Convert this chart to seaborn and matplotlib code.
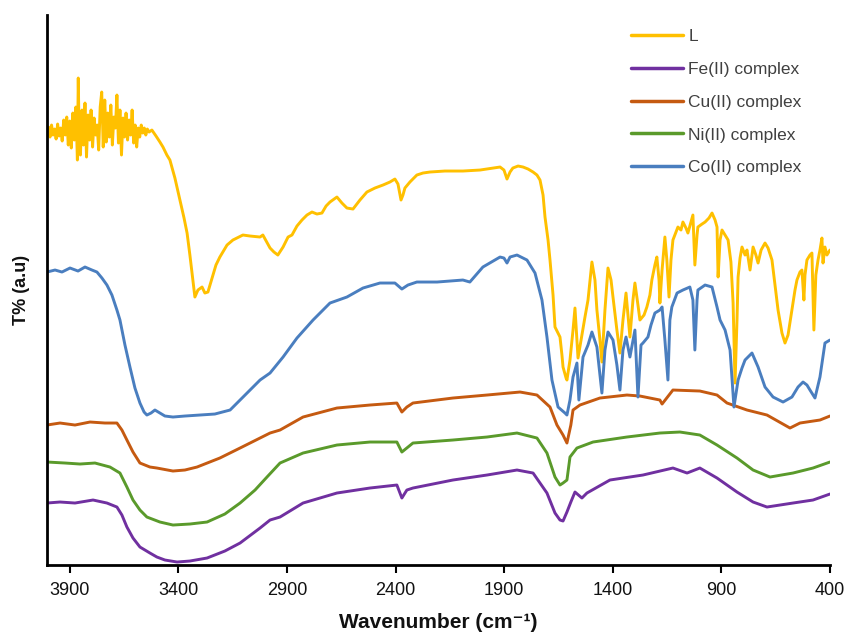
import numpy as np
import pandas as pd
import matplotlib
matplotlib.use("Agg")
import matplotlib.pyplot as plt
import seaborn as sns

# FT-IR spectra, wavenumber (cm-1) vs transmittance (arbitrary offset units)
wn_L = [4005, 3998, 3991, 3984, 3977, 3970, 3963, 3956, 3949, 3942, 3935, 3928, 3921, 3914, 3907,
        3900, 3893, 3886, 3879, 3872, 3865, 3861, 3857, 3851, 3844, 3837, 3830, 3823, 3816, 3809,
        3802, 3795, 3788, 3781, 3774, 3767, 3760, 3753, 3746, 3739, 3732, 3725, 3718, 3711, 3704,
        3697, 3690, 3683, 3676, 3669, 3662, 3655, 3648, 3641, 3634, 3627, 3620, 3613, 3606, 3599,
        3592, 3585, 3578, 3571, 3564, 3557, 3550, 3543, 3535, 3522,
        3503, 3485, 3471, 3453, 3439, 3416, 3393, 3374, 3360, 3347, 3337, 3324, 3310, 3291,
        3278, 3264, 3245, 3227, 3209, 3176, 3149, 3103, 3070, 3024, 3011, 2978, 2960, 2942, 2918,
        2895, 2877, 2854, 2831, 2808, 2785, 2762, 2739, 2720, 2702, 2670, 2647, 2624, 2596, 2564,
        2532, 2495, 2458, 2426, 2403, 2389, 2375, 2366, 2357, 2334, 2302, 2274, 2242, 2173, 2090,
        2011, 1919, 1901, 1887, 1873, 1860, 1836, 1813, 1790, 1767, 1749, 1735, 1721, 1712, 1698,
        1689, 1675, 1666, 1652, 1643, 1634, 1629, 1615, 1611, 1597, 1583, 1574, 1560, 1546, 1528,
        1514, 1496, 1482, 1473, 1459, 1450, 1436, 1422, 1408, 1399, 1381, 1367, 1353, 1339, 1330,
        1321, 1307, 1298, 1284, 1275, 1256, 1243, 1229, 1220, 1206, 1197, 1187, 1183, 1173, 1160,
        1151, 1141, 1132, 1123, 1109, 1100, 1086, 1077, 1063, 1054, 1040, 1031, 1022, 1012, 1008,
        989, 975, 957, 943, 929, 920, 915, 906, 897, 883, 869, 856, 846, 837, 828,
        823, 814, 805, 791, 782, 768, 754, 741, 731, 717, 699, 685, 667, 653, 639,
        621, 607, 593, 575, 561, 552, 538, 529, 520, 515, 506, 492, 483, 474, 465,
        455, 446, 437, 432, 423, 414, 400]
t_L = [433, 438, 428, 440, 430, 436, 426, 441, 429, 437, 424, 445, 430, 448, 420,
       444, 417, 452, 425, 458, 405, 487, 430, 410, 455, 420, 462, 408, 450, 425,
       455, 418, 447, 430, 440, 415, 458, 473, 418, 465, 423, 452, 428, 460, 420,
       448, 437, 470, 422, 455, 410, 447, 428, 452, 425, 445, 430, 455, 422, 440,
       418, 437, 428, 440, 432, 437, 430, 436, 433, 435,
       429, 423, 418, 410, 405, 387, 365, 347, 332, 310, 292, 268, 275, 278,
       272, 273, 287, 300, 308, 320, 325, 330, 329, 328, 330, 317, 313, 310, 318,
       328, 330, 339, 345, 350, 353, 351, 352, 359, 363, 368, 362, 357, 356, 365,
       373, 377, 380, 383, 386, 381, 365, 370, 377, 383, 390, 392, 393, 394, 394,
       395, 398, 395, 386, 393, 397, 399, 398, 396, 393, 390, 385, 370, 348, 325,
       305, 270, 238, 232, 228, 210, 198, 187, 185, 205, 235, 257, 207, 225, 248,
       265, 303, 285, 255, 225, 203, 255, 297, 285, 268, 235, 212, 245, 272, 250,
       228, 265, 282, 260, 245, 250, 258, 270, 285, 300, 308, 285, 262, 295, 328,
       305, 268, 305, 325, 333, 338, 335, 343, 337, 332, 343, 350, 300, 330, 338,
       341, 343, 347, 352, 345, 338, 288, 325, 335, 330, 325, 303, 262, 182, 245,
       288, 307, 318, 310, 315, 295, 318, 310, 302, 315, 322, 317, 305, 280, 255,
       232, 222, 230, 255, 275, 285, 293, 295, 265, 290, 305, 310, 312, 235, 290,
       305, 315, 327, 302, 318, 310, 315]

wn_Fe = [4005, 3945, 3876, 3793, 3729, 3683, 3660, 3637, 3609, 3577, 3531, 3499, 3462, 3406, 3347,
         3268, 3186, 3116, 3024, 2978, 2932, 2826, 2670, 2518, 2394, 2371, 2348, 2320, 2136, 1979,
         1841, 1767, 1703, 1666, 1643, 1629, 1611, 1593, 1574, 1542, 1519, 1413, 1261, 1123, 1058,
         999, 920, 828, 754, 690, 570, 478, 400]
t_Fe = [62, 63, 62, 65, 62, 58, 50, 38, 27, 18, 12, 8, 5, 3, 4,
        7, 14, 22, 37, 45, 48, 62, 72, 77, 80, 67, 75, 77, 85, 90,
        95, 92, 72, 52, 45, 44, 53, 63, 73, 67, 72, 85, 90, 97, 92,
        97, 87, 73, 63, 58, 62, 65, 71]

wn_Cu = [4005, 3945, 3876, 3807, 3738, 3683, 3660, 3637, 3609, 3577, 3531, 3499, 3425, 3370, 3314,
         3209, 3116, 3024, 2978, 2932, 2826, 2670, 2518, 2394, 2371, 2348, 2320, 2136, 1979, 1827,
         1749, 1689, 1657, 1629, 1611, 1593, 1583, 1551, 1459, 1335, 1275, 1183, 1173, 1123, 999,
         920, 874, 782, 690, 584, 538, 446, 400]
t_Cu = [140, 142, 140, 143, 142, 142, 135, 125, 113, 102, 98, 97, 94, 95, 98,
        107, 117, 127, 132, 135, 148, 157, 160, 162, 153, 158, 162, 167, 170, 173,
        170, 158, 140, 130, 122, 140, 155, 160, 167, 170, 169, 165, 161, 175, 174,
        170, 162, 155, 150, 137, 142, 145, 149]

wn_Ni = [4005, 3922, 3853, 3784, 3715, 3669, 3637, 3609, 3577, 3545, 3485, 3425, 3347, 3268, 3186,
         3116, 3047, 2992, 2932, 2826, 2670, 2518, 2394, 2371, 2320, 2136, 1979, 1841, 1749, 1703,
         1666, 1643, 1629, 1611, 1597, 1565, 1491, 1335, 1183, 1091, 999, 920, 828, 754, 676,
         570, 478, 400]
t_Ni = [103, 102, 101, 102, 98, 92, 78, 65, 55, 48, 43, 40, 41, 43, 51,
        62, 75, 88, 102, 112, 120, 123, 123, 113, 122, 125, 128, 132, 127, 112,
        88, 80, 82, 85, 108, 117, 123, 128, 132, 133, 130, 120, 107, 95, 88,
        92, 97, 103]

wn_Co = [4005, 3968, 3936, 3899, 3862, 3830, 3798, 3775, 3752, 3729, 3706, 3683, 3669, 3646, 3623,
         3600, 3577, 3558, 3545, 3526, 3508, 3485, 3462, 3425, 3370, 3301, 3232, 3162, 3116, 3070,
         3024, 2978, 2918, 2854, 2780, 2702, 2624, 2550, 2472, 2403, 2371, 2343, 2302, 2209, 2090,
         2058, 1998, 1919, 1901, 1887, 1873, 1841, 1795, 1758, 1726, 1703, 1680, 1652, 1620, 1611,
         1597, 1583, 1565, 1556, 1537, 1514, 1496, 1473, 1450, 1436, 1422, 1399, 1381, 1367, 1353,
         1339, 1321, 1298, 1284, 1270, 1261, 1238, 1224, 1206, 1183, 1173, 1160, 1146, 1137, 1128,
         1104, 1077, 1045, 1031, 1022, 1012, 1008, 975, 943, 920, 906, 883, 860, 842, 823,
         805, 791, 759, 731, 699, 662, 616, 575, 547, 524, 506, 492, 469, 446, 423,
         400]
t_Co = [293, 295, 293, 297, 294, 298, 295, 293, 287, 280, 270, 255, 245, 220, 198,
        177, 162, 153, 150, 152, 155, 152, 149, 148, 149, 150, 151, 155, 165, 175,
        185, 192, 208, 227, 245, 262, 268, 277, 282, 282, 276, 280, 283, 283, 285,
        283, 298, 308, 307, 302, 308, 310, 305, 292, 265, 228, 185, 158, 152, 150,
        165, 188, 202, 165, 208, 220, 233, 218, 172, 215, 233, 225, 200, 175, 215,
        228, 208, 235, 168, 220, 222, 228, 240, 252, 255, 258, 225, 185, 245, 258,
        272, 275, 278, 265, 215, 265, 275, 280, 278, 258, 245, 235, 215, 158, 185,
        197, 205, 212, 198, 178, 168, 163, 168, 178, 183, 180, 175, 167, 188, 222,
        225]

samples = ["L", "Fe(II) complex", "Cu(II) complex", "Ni(II) complex", "Co(II) complex"]
colors = ["#FFC000", "#7030A0", "#C55A11", "#5A9A2B", "#4A7EBF"]
x_ticks = [3900, 3400, 2900, 2400, 1900, 1400, 900, 400]

frames = []
for name, wn, t in zip(samples, [wn_L, wn_Fe, wn_Cu, wn_Ni, wn_Co],
                       [t_L, t_Fe, t_Cu, t_Ni, t_Co]):
    frames.append(pd.DataFrame({"wavenumber": wn, "T": t, "sample": name}))
df = pd.concat(frames, ignore_index=True)

sns.set_theme(style="white")
plt.rcParams["font.family"] = ["Liberation Sans", "DejaVu Sans"]

fig = plt.figure(figsize=(8.45, 6.34), dpi=100)
ax = fig.add_axes([0.0556, 0.1088, 0.9266, 0.8675])

sns.lineplot(data=df, x="wavenumber", y="T", hue="sample", hue_order=samples,
             palette=colors, sort=False, estimator=None, linewidth=2.1, ax=ax)

ax.set_xlim(4005, 400)
ax.set_ylim(0, 550)
ax.set_xticks(x_ticks)
ax.set_yticks([])
ax.set_xticklabels([str(v) for v in x_ticks], fontsize=13, color="#111111")
ax.tick_params(axis="x", direction="out", length=6, width=1.5, color="black", pad=6,
               bottom=True)

for s in ["top", "right"]:
    ax.spines[s].set_visible(False)
for s in ["left", "bottom"]:
    ax.spines[s].set_color("black")
    ax.spines[s].set_linewidth(2.0)

ax.set_xlabel("Wavenumber (cm\u207b\u00b9)", fontsize=15, fontweight="bold",
              color="#111111", labelpad=10)
ax.set_ylabel("T% (a.u)", fontsize=13, fontweight="bold", color="#111111", labelpad=12)

handles, labels = ax.get_legend_handles_labels()
leg = ax.legend(handles, labels, loc="upper left", bbox_to_anchor=(0.746, 0.975),
                frameon=False, fontsize=12.5, handlelength=3.0, handletextpad=0.3,
                labelspacing=1.02, borderpad=0, borderaxespad=0)
for txt in leg.get_texts():
    txt.set_color("#404040")
for line in leg.get_lines():
    line.set_linewidth(2.5)

fig.savefig("out.png", dpi=100)
